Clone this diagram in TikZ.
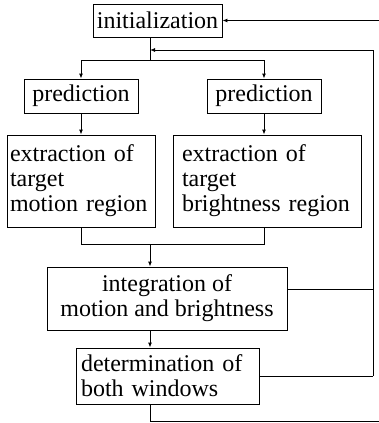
\documentclass[tikz,border=0pt]{standalone}
\usepackage{fontspec}
\setmainfont{Liberation Serif}
\usetikzlibrary{arrows.meta}
\hyphenpenalty=10000
\exhyphenpenalty=10000
\begin{document}
\begin{tikzpicture}[x=1pt,y=-1pt,
  box/.style={draw, line width=0.9pt, rectangle, inner sep=0pt, font=\fontsize{24}{25}\selectfont},
  conn/.style={line width=0.9pt},
  arr/.style={conn, -{Latex[length=5pt,width=4pt]}}]
\useasboundingbox (0,0) rectangle (379,423);
\node[box, minimum width=129pt, minimum height=33pt] (init) at (157.5,20.5) {initialization};
\node[box, minimum width=114pt, minimum height=34pt] (predL) at (81,96) {prediction};
\node[box, minimum width=114pt, minimum height=34pt] (predR) at (264,96) {prediction};
\node[box, minimum width=148pt, minimum height=92pt, align=left, text width=142pt] (extL) at (81,181) {extraction of\\target\\motion region};
\node[box, minimum width=188pt, minimum height=92pt, align=left, text width=170pt] (extR) at (267,181) {extraction of\\target\\brightness region};
\node[box, minimum width=240pt, minimum height=63pt, align=center] (integ) at (167,298.5) {integration of\\motion and brightness};
\node[box, minimum width=183pt, minimum height=56pt, align=left, text width=173pt] (det) at (167.5,376) {determination of\\both windows};
\coordinate (b1) at (150,60);
\coordinate (m) at (150,244);
\coordinate (rtop) at (373,50);
\coordinate (rbot) at (373,376);
\coordinate (rint) at (373,289);
\coordinate (fb) at (150,50);
\coordinate (topin) at (379,20.5);
\coordinate (botc) at (150,421);
\coordinate (botout) at (379,421);
% initialization to branch
\draw[conn] (init.south -| b1) -- (b1);
\draw[arr] (b1) -| (predL.north);
\draw[arr] (b1) -| (predR.north);
\draw[arr] (predL.south) -- (extL.north);
\draw[arr] (predR.south) -- (predR.south |- extR.north);
% merge
\draw[conn] (extL.south) |- (m);
\draw[conn] (predR.south |- extR.south) |- (m);
\draw[arr] (m) -- (integ.north -| m);
\draw[arr] (integ.south -| m) -- (det.north -| m);
% feedback
\draw[conn] (integ.east |- rint) -- (rint);
\draw[conn] (det.east) -- (rbot);
\draw[conn] (rbot) -- (rtop);
\draw[arr] (rtop) -- (fb);
\draw[arr] (topin) -- (init.east);
\draw[conn] (det.south -| botc) -- (botc) -- (botout);
\end{tikzpicture}
\end{document}
